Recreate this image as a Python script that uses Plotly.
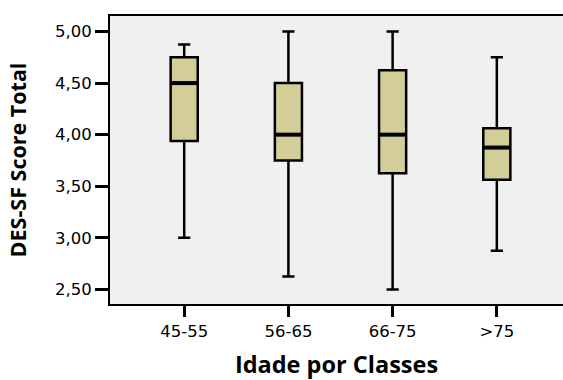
import plotly.graph_objects as go

# Age classes and DES-SF total score summary per class
classes = ["45-55", "56-65", "66-75", ">75"]
lower_whisker = [3.00, 2.625, 2.50, 2.875]
q1 = [3.9375, 3.75, 3.625, 3.5625]
median = [4.50, 4.00, 4.00, 3.875]
q3 = [4.75, 4.50, 4.625, 4.0625]
upper_whisker = [4.875, 5.00, 5.00, 4.75]

y_ticks = [2.5, 3.0, 3.5, 4.0, 4.5, 5.0]

BOX_WIDTH = 0.26
FILL = "#D3CE97"
positions = list(range(len(classes)))

fig = go.Figure()
fig.add_trace(go.Box(
    x=positions,
    q1=q1,
    median=median,
    q3=q3,
    lowerfence=lower_whisker,
    upperfence=upper_whisker,
    width=BOX_WIDTH,
    whiskerwidth=0.45,
    fillcolor=FILL,
    line=dict(color="black", width=2.5),
    boxpoints=False,
    hoverinfo="skip",
    showlegend=False,
))

# Heavier median bars drawn over each box
for i, m in zip(positions, median):
    fig.add_trace(go.Scatter(
        x=[i - BOX_WIDTH / 2, i + BOX_WIDTH / 2],
        y=[m, m],
        mode="lines",
        line=dict(color="black", width=4),
        hoverinfo="skip",
        showlegend=False,
    ))

tick_font = dict(family="DejaVu Sans", size=16.5, color="black")

fig.update_layout(
    width=563,
    height=380,
    margin=dict(l=110, r=0, t=16, b=76),
    paper_bgcolor="white",
    plot_bgcolor="#F0F0F0",
    separators=",.",
    xaxis=dict(
        range=[-0.712, 3.635],
        tickmode="array",
        tickvals=positions,
        ticktext=classes,
        ticks="outside",
        ticklen=11,
        tickwidth=2.5,
        tickcolor="black",
        showline=True,
        linecolor="black",
        linewidth=2,
        mirror=True,
        showgrid=False,
        zeroline=False,
        tickfont=tick_font,
        title=dict(text="Idade por Classes",
                   font=dict(family="Open Sans", size=23.5, color="black", weight="bold"),
                   standoff=23),
    ),
    yaxis=dict(
        range=[2.359, 5.150],
        tickmode="array",
        tickvals=y_ticks,
        tickformat=".2f",
        ticks="outside",
        ticklen=13,
        tickwidth=2.5,
        tickcolor="black",
        showline=True,
        linecolor="black",
        linewidth=2,
        showgrid=False,
        zeroline=False,
        tickfont=tick_font,
        title=dict(text="DES-SF Score Total",
                   font=dict(family="Open Sans", size=21.5, color="black", weight="bold"),
                   standoff=22),
    ),
)

fig.write_html("out.html")
